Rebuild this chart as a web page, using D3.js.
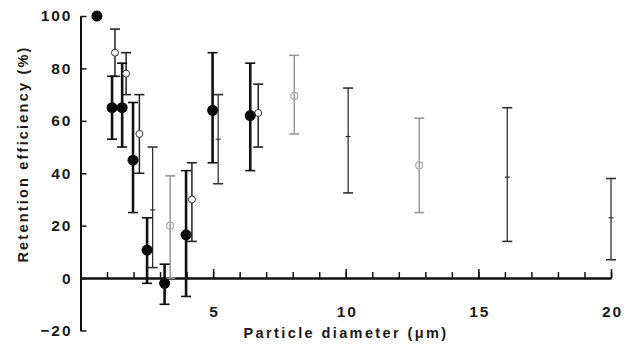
<!DOCTYPE html>
<html>
<head>
<meta charset="utf-8">
<script src="https://cdn.jsdelivr.net/npm/d3@7"></script>
<style>
  body { margin: 0; background: #fff; }
  text { font-family: "Liberation Sans", Arial, sans-serif; font-weight: bold; fill: #1a1a1a; }
</style>
</head>
<body>
<div id="chart"></div>
<script>
const width = 634;
const height = 349;

// filled black circles: diameter, efficiency, low, high
const filledX  = [0.62, 1.19, 1.57, 1.98, 2.51, 3.17, 3.98, 4.98, 6.4];
const filledY  = [100, 65, 65, 45, 10.7, -2, 16.5, 64, 62];
const filledLo = [null, 53, 50, 25, -2, -10, -7, 44, 41];
const filledHi = [null, 77, 82, 67, 23, 5.3, 41, 86, 82];

// open circles
const openX  = [1.3, 1.72, 2.22, 4.2, 6.7];
const openY  = [86, 78, 55, 30, 63];
const openLo = [77, 70, 40, 14, 50];
const openHi = [95, 86, 70, 44, 74];

// grey circles (faint on the print)
const greyX  = [3.38, 8.06, 12.77];
const greyY  = [20, 69.5, 43];
const greyLo = [0, 55, 25];
const greyHi = [39, 85, 61];

// small tick-like markers
const smallX  = [2.72, 5.19, 10.09, 16.09, 20.0];
const smallY  = [26, 53, 54, 38.5, 23];
const smallLo = [4, 36, 32.5, 14, 7];
const smallHi = [50, 70, 72.5, 65, 38];

const yTicks = [-20, 0, 20, 40, 60, 80, 100];
const xMajor = [5, 10, 15, 20];

const x = d3.scaleLinear().domain([0, 20]).range([80.5, 611]);
const y = d3.scaleLinear().domain([-20, 100]).range([330.5, 16]);

const svg = d3.select('#chart')
  .append('svg')
  .attr('width', width)
  .attr('height', height);

// y axis, ticks pointing inwards
const yAxis = svg.append('g')
  .attr('transform', 'translate(' + x(0) + ',0)')
  .call(d3.axisLeft(y).tickValues(yTicks).tickSize(-6).tickSizeOuter(0).tickPadding(8));
yAxis.selectAll('text').style('font-size', '15.5px').style('letter-spacing', '2px');

// x axis drawn at y = 0, minor then major ticks
const xMinor = svg.append('g')
  .attr('transform', 'translate(0,' + y(0) + ')')
  .call(d3.axisBottom(x).tickValues(d3.range(1, 21)).tickSize(-6).tickSizeOuter(0).tickFormat(''));
const xAxis = svg.append('g')
  .attr('transform', 'translate(0,' + y(0) + ')')
  .call(d3.axisBottom(x).tickValues(xMajor).tickSize(-9).tickSizeOuter(0).tickPadding(28));
xAxis.selectAll('text').style('font-size', '15.5px').style('letter-spacing', '2px').attr('dx', '1px');

svg.selectAll('.domain').attr('stroke', '#111').attr('stroke-width', 2);
svg.selectAll('.tick line').attr('stroke', '#111').attr('stroke-width', 1.5);

// axis titles
svg.append('text')
  .attr('x', 346).attr('y', 338)
  .attr('text-anchor', 'middle')
  .style('font-size', '14.5px')
  .style('letter-spacing', '2.4px')
  .text('Particle diameter (μm)');

svg.append('text')
  .attr('transform', 'translate(28,154) rotate(-90)')
  .attr('text-anchor', 'middle')
  .style('font-size', '14.5px')
  .style('letter-spacing', '2.2px')
  .text('Retention efficiency (%)');

function zip(xs, ys, los, his) {
  return xs.map(function(d, i) { return { x: d, y: ys[i], lo: los[i], hi: his[i] }; });
}

function errorBars(data, color, w, cap) {
  const g = svg.append('g');
  const withBars = data.filter(function(d) { return d.lo != null; });
  g.selectAll('line.bar').data(withBars).enter().append('line')
    .attr('x1', function(d) { return x(d.x); }).attr('x2', function(d) { return x(d.x); })
    .attr('y1', function(d) { return y(d.lo); }).attr('y2', function(d) { return y(d.hi); })
    .attr('stroke', color).attr('stroke-width', w);
  ['lo', 'hi'].forEach(function(k) {
    g.selectAll('line.' + k).data(withBars).enter().append('line')
      .attr('x1', function(d) { return x(d.x) - cap; }).attr('x2', function(d) { return x(d.x) + cap; })
      .attr('y1', function(d) { return y(d[k]); }).attr('y2', function(d) { return y(d[k]); })
      .attr('stroke', color).attr('stroke-width', 1.6);
  });
}

const filled = zip(filledX, filledY, filledLo, filledHi);
const open = zip(openX, openY, openLo, openHi);
const grey = zip(greyX, greyY, greyLo, greyHi);
const small = zip(smallX, smallY, smallLo, smallHi);

errorBars(grey, '#9a9a9a', 1.5, 5);
errorBars(small, '#333', 1.3, 5);
errorBars(open, '#222', 1.5, 5);
errorBars(filled, '#111', 2.6, 5);

svg.append('g').selectAll('circle').data(grey).enter().append('circle')
  .attr('cx', function(d) { return x(d.x); }).attr('cy', function(d) { return y(d.y); })
  .attr('r', 3.5).attr('fill', 'none').attr('stroke', '#aaa').attr('stroke-width', 1.2);

svg.append('g').selectAll('line').data(small).enter().append('line')
  .attr('x1', function(d) { return x(d.x) - 2.5; }).attr('x2', function(d) { return x(d.x) + 2.5; })
  .attr('y1', function(d) { return y(d.y); }).attr('y2', function(d) { return y(d.y); })
  .attr('stroke', '#333').attr('stroke-width', 1.2);

svg.append('g').selectAll('circle').data(open).enter().append('circle')
  .attr('cx', function(d) { return x(d.x); }).attr('cy', function(d) { return y(d.y); })
  .attr('r', 3.5).attr('fill', '#fff').attr('stroke', '#333').attr('stroke-width', 1);

svg.append('g').selectAll('circle').data(filled).enter().append('circle')
  .attr('cx', function(d) { return x(d.x); }).attr('cy', function(d) { return y(d.y); })
  .attr('r', 5.5).attr('fill', '#0a0a0a');
</script>
</body>
</html>
